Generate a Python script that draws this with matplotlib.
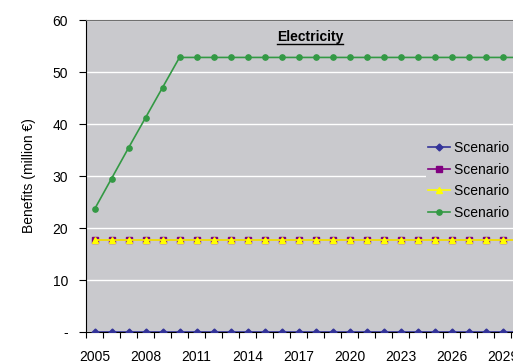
import matplotlib
matplotlib.use("Agg")
import matplotlib.pyplot as plt
from matplotlib.lines import Line2D

plt.rcParams['font.family'] = ['Liberation Sans', 'DejaVu Sans']

years = list(range(2005, 2031))
scenario1 = [0.0] * len(years)
scenario2 = [17.6] * len(years)
scenario3 = [17.6] * len(years)
scenario4 = [23.6, 29.5, 35.4, 41.2, 47.0] + [52.8] * (len(years) - 5)

labels = ["Scenario 1", "Scenario 2", "Scenario 3", "Scenario 4"]
yticks = [0, 10, 20, 30, 40, 50, 60]
ytick_labels = ["-", "10", "20", "30", "40", "50", "60"]
xtick_years = list(range(2005, 2031, 3))

W, H = 513, 362
fig = plt.figure(figsize=(W / 100, H / 100), dpi=100)
ax_left, ax_top, ax_bottom = 86, 20, 332
ax_width_px = 26 * 17
ax = fig.add_axes([ax_left / W, (H - ax_bottom) / H, ax_width_px / W, (ax_bottom - ax_top) / H])
bg = '#C9C9CD'
ax.set_facecolor(bg)

ax.plot(years, scenario1, color='#333399', marker='D', markersize=3.5, lw=1.2, label=labels[0], zorder=3)
ax.plot(years, scenario2, color='#800080', marker='s', markersize=3.8, lw=1.2, label=labels[1], zorder=3)
ax.plot(years, scenario3, color='#FFFF00', marker='^', markersize=5, lw=1.2, label=labels[2], zorder=4)
ax.plot(years, scenario4, color='#339944', marker='o', markersize=3.8, lw=1.2, label=labels[3], zorder=5)

ax.set_yticks(yticks)
ax.set_yticklabels(ytick_labels, fontsize=10)
ax.yaxis.grid(True, color='white', lw=1)
ax.set_axisbelow(True)

ax.set_xticks([y - 0.5 for y in years] + [years[-1] + 0.5])
ax.set_xticklabels([])
ax.tick_params(axis='x', which='major', length=4, direction='out', width=0.8)
ax.set_xticks(xtick_years, minor=True)
ax.set_xticklabels([str(y) for y in xtick_years], minor=True, fontsize=10)
ax.tick_params(axis='x', which='minor', length=0, pad=13)
ax.tick_params(axis='y', length=5, width=0.8, pad=8)

ax.set_xlim(2004.5, 2030.5)
ax.set_ylim(0, 60)

ax.spines['right'].set_visible(False)
ax.spines['top'].set_color('#707070')
ax.spines['left'].set_color('black')
ax.spines['bottom'].set_color('black')

ax.set_ylabel("Benefits (million €)", fontsize=10, labelpad=12)

t = fig.text(310 / W, 1 - 37 / H, "Electricity", fontsize=10, fontweight='bold', ha='center', va='center')
fig.canvas.draw()
bb = t.get_window_extent()
fig.add_artist(Line2D([bb.x0 / W, bb.x1 / W], [(bb.y0 + 0.5) / H, (bb.y0 + 0.5) / H],
                      transform=fig.transFigure, color='black', lw=1))

leg = fig.legend(loc='upper left', bbox_to_anchor=(426 / W, 1 - 139 / H), frameon=True,
                 facecolor=bg, edgecolor='none', framealpha=1, fontsize=10,
                 handlelength=1.55, handletextpad=0.3, labelspacing=0.55, borderpad=0.15,
                 borderaxespad=0)

fig.savefig("out.png", dpi=100)
